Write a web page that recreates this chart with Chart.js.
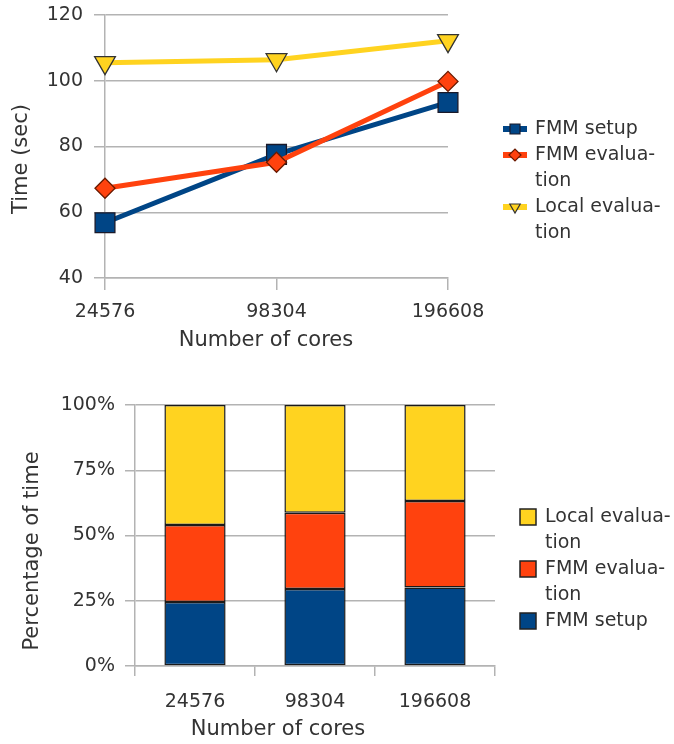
<!DOCTYPE html>
<html>
<head>
<meta charset="utf-8">
<script src="https://cdn.jsdelivr.net/npm/chart.js@4.4.1/dist/chart.umd.min.js"></script>
<style>
    body { margin: 0; background: #fff; width: 674px; height: 744px; overflow: hidden; position: relative; }
    #timeChart { position: absolute; left: 0; top: 0; }
    #pctChart { position: absolute; left: 0; top: 370px; }
</style>
</head>
<body>
<canvas id="timeChart" width="674" height="360"></canvas>
<canvas id="pctChart" width="674" height="374"></canvas>
<script>
// Data
const cores = ["24576", "98304", "196608"];
const setupTime = [56.8, 77.6, 93.4];
const evalTime = [67.3, 75.2, 99.8];
const localTime = [105.5, 106.4, 112.2];
const timeTicks = [40, 60, 80, 100, 120];

const setupPct = [24.5, 29.5, 30.1];
const evalPct = [29.5, 29.2, 33.1];
const localPct = [46.0, 41.3, 36.8];
const pctTicks = [0, 25, 50, 75, 100];

const seriesNames = ["FMM setup", "FMM evaluation", "Local evaluation"];
const wrappedNames = [["FMM setup"], ["FMM evalua-", "tion"], ["Local evalua-", "tion"]];

const blue = "#004586";
const orange = "#ff420e";
const yellow = "#ffd320";
const gridGray = "#b3b3b3";
const textColor = "#333333";
const font = "'DejaVu Sans', sans-serif";

// Small marker shapes for the legends
function markerPath(ctx, style, x, y, r) {
    ctx.beginPath();
    if (style === "rect") {
        ctx.rect(x - r, y - r, 2 * r, 2 * r);
    } else if (style === "rectRot") {
        ctx.moveTo(x - r, y);
        ctx.lineTo(x, y - r);
        ctx.lineTo(x + r, y);
        ctx.lineTo(x, y + r);
        ctx.closePath();
    } else {
        // downward triangle
        ctx.moveTo(x - r * 0.87, y - r * 0.5);
        ctx.lineTo(x + r * 0.87, y - r * 0.5);
        ctx.lineTo(x, y + r);
        ctx.closePath();
    }
}

function drawLineKey(ctx, ds, x, y) {
    ctx.strokeStyle = ds.borderColor;
    ctx.lineWidth = 6;
    ctx.beginPath();
    ctx.moveTo(x - 12, y);
    ctx.lineTo(x + 12, y);
    ctx.stroke();
    markerPath(ctx, ds.pointStyle, x, y, ds.keySize);
    ctx.fillStyle = ds.pointBackgroundColor;
    ctx.fill();
    ctx.lineWidth = 1.2;
    ctx.strokeStyle = ds.pointBorderColor;
    ctx.stroke();
}

function drawBoxKey(ctx, ds, x, y) {
    ctx.fillStyle = ds.backgroundColor;
    ctx.fillRect(x - 8, y - 8, 16, 16);
    ctx.lineWidth = 1.5;
    ctx.strokeStyle = "#222";
    ctx.strokeRect(x - 8, y - 8, 16, 16);
}

// Legend on the right plus the axis titles
const sideLegend = {
    id: "sideLegend",
    afterDraw(chart, args, opts) {
        const ctx = chart.ctx;
        ctx.save();
        ctx.fillStyle = textColor;
        ctx.textBaseline = "middle";
        ctx.textAlign = "left";
        ctx.font = "19px " + font;
        let y = opts.top;
        opts.order.forEach((i) => {
            const ds = chart.data.datasets[i];
            opts.key(ctx, ds, opts.keyX, y);
            ctx.fillStyle = textColor;
            wrappedNames[i].forEach((t, k) => {
                ctx.fillText(t, opts.textX, y + k * opts.gap);
            });
            y += wrappedNames[i].length * opts.gap;
        });

        ctx.font = "21px " + font;
        ctx.textAlign = "center";
        ctx.fillText(opts.xTitle, opts.xTitlePos[0], opts.xTitlePos[1]);
        ctx.translate(opts.yTitlePos[0], opts.yTitlePos[1]);
        ctx.rotate(-Math.PI / 2);
        ctx.fillText(opts.yTitle, 0, 0);
        ctx.restore();
    }
};

// Top chart: time per phase
new Chart(document.getElementById("timeChart"), {
    type: "line",
    data: {
        labels: cores,
        datasets: [
            {
                label: seriesNames[0],
                data: setupTime,
                borderColor: blue,
                pointBackgroundColor: blue,
                pointBorderColor: "#1a1a2a",
                pointStyle: "rect",
                pointRadius: 14,
                keySize: 5,
                order: 3,
            },
            {
                label: seriesNames[1],
                data: evalTime,
                borderColor: orange,
                pointBackgroundColor: orange,
                pointBorderColor: "#6a1a00",
                pointStyle: "rectRot",
                pointRadius: 10,
                keySize: 6,
                order: 2,
            },
            {
                label: seriesNames[2],
                data: localTime,
                borderColor: yellow,
                pointBackgroundColor: yellow,
                pointBorderColor: "#333",
                pointStyle: "triangle",
                pointRotation: 180,
                pointRadius: 12,
                keySize: 6,
                order: 1,
            },
        ],
    },
    options: {
        responsive: false,
        animation: false,
        elements: {
            line: { borderWidth: 5, tension: 0 },
            point: { borderWidth: 1.3, hoverRadius: 14 },
        },
        layout: { autoPadding: false, padding: { top: 15, right: 226, left: 0, bottom: 0 } },
        plugins: {
            legend: { display: false },
            tooltip: { enabled: false },
            sideLegend: {
                order: [0, 1, 2],
                key: drawLineKey,
                top: 129,
                gap: 26,
                keyX: 515,
                textX: 535,
                xTitle: "Number of cores",
                xTitlePos: [266, 341],
                yTitle: "Time (sec)",
                yTitlePos: [22, 159],
            },
        },
        scales: {
            x: {
                offset: false,
                grid: {
                    color: "transparent",
                    tickColor: gridGray,
                    tickLength: 12,
                    lineWidth: 1.5,
                },
                border: { color: gridGray, width: 1.5 },
                ticks: { color: textColor, font: { family: font, size: 19 }, padding: 11, maxRotation: 0 },
                afterFit(scale) { scale.height = 82; },
            },
            y: {
                min: 40,
                max: 120,
                grid: { color: gridGray, tickColor: gridGray, tickLength: 11, lineWidth: 1.5 },
                border: { color: gridGray, width: 1.5 },
                ticks: { color: textColor, font: { family: font, size: 19 }, padding: 11 },
                afterBuildTicks(scale) { scale.ticks = timeTicks.map((v) => ({ value: v })); },
                afterFit(scale) {
                    scale.width = 105;
                    scale.paddingTop = 0;
                    scale.paddingBottom = 0;
                },
            },
        },
    },
    plugins: [sideLegend],
});

// Bottom chart: share of time per phase
new Chart(document.getElementById("pctChart"), {
    type: "bar",
    data: {
        labels: cores,
        datasets: [
            { label: seriesNames[0], data: setupPct, backgroundColor: blue },
            { label: seriesNames[1], data: evalPct, backgroundColor: orange },
            { label: seriesNames[2], data: localPct, backgroundColor: yellow },
        ],
    },
    options: {
        responsive: false,
        animation: false,
        datasets: {
            bar: {
                barPercentage: 1,
                categoryPercentage: 0.51,
                borderColor: "#1a1a1a",
                borderWidth: 1.5,
                borderSkipped: false,
                inflateAmount: 0,
            },
        },
        layout: { padding: { top: 35, right: 179, left: 0, bottom: 0 } },
        plugins: {
            legend: { display: false },
            tooltip: { enabled: false },
            sideLegend: {
                order: [2, 1, 0],
                key: drawBoxKey,
                top: 147,
                gap: 26,
                keyX: 528,
                textX: 545,
                xTitle: "Number of cores",
                xTitlePos: [278, 360],
                yTitle: "Percentage of time",
                yTitlePos: [33, 181],
            },
        },
        scales: {
            x: {
                stacked: true,
                grid: {
                    offset: true,
                    color: "transparent",
                    tickColor: gridGray,
                    tickLength: 10,
                    lineWidth: 1.5,
                },
                border: { color: gridGray, width: 1.5 },
                ticks: { color: textColor, font: { family: font, size: 19 }, padding: 15, maxRotation: 0 },
                afterFit(scale) { scale.height = 78; },
            },
            y: {
                stacked: true,
                min: 0,
                max: 100,
                grid: { color: gridGray, tickColor: gridGray, tickLength: 10, lineWidth: 1.5 },
                border: { color: gridGray, width: 1.5 },
                ticks: {
                    color: textColor,
                    font: { family: font, size: 19 },
                    padding: 10,
                    callback: (v) => v + "%",
                },
                afterBuildTicks(scale) { scale.ticks = pctTicks.map((v) => ({ value: v })); },
                afterFit(scale) { scale.width = 135; },
            },
        },
    },
    plugins: [sideLegend],
});
</script>
</body>
</html>
